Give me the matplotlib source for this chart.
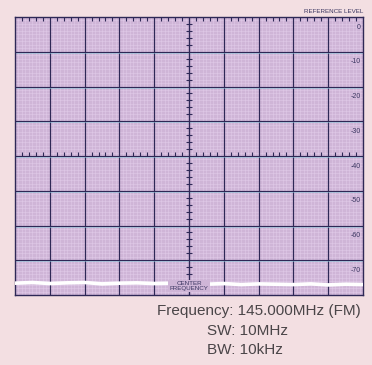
import numpy as np
import matplotlib.pyplot as plt

# spectrum analyser screen: 145 MHz centre, 10 MHz sweep, levels in dB
freq_mhz = [140.0, 140.5, 141.0, 141.5, 142.0, 142.5, 143.0, 143.5, 144.0, 144.5,
            145.0, 145.5, 146.0, 146.5, 147.0, 147.5, 148.0, 148.5, 149.0, 149.5, 150.0]
level_db = [-76.6, -76.4, -76.7, -76.5, -76.4, -76.8, -76.6, -76.5, -76.7, -76.6,
            -76.8, -76.9, -76.7, -77.0, -76.8, -76.9, -77.0, -76.8, -77.1, -76.9, -77.0]
level_labels = ['0', '-10', '-20', '-30', '-40', '-50', '-60', '-70']
level_values = [0, -10, -20, -30, -40, -50, -60, -70]
info_lines = ['Frequency: 145.000MHz (FM)', 'SW: 10MHz', 'BW: 10kHz']

bg = '#f3dfe2'
face = '#cfb5d7'
grid_c = '#2e2856'

plt.rcParams['font.family'] = ['Liberation Sans', 'DejaVu Sans']
fig = plt.figure(figsize=(3.72, 3.65), dpi=100, facecolor=bg)
ax = fig.add_axes([15 / 372, 70 / 365, 348 / 372, 278 / 365])
ax.set_facecolor(face)
ax.set_xlim(140, 150)
ax.set_ylim(-80, 0)

# fine graticule
for x in np.arange(140, 150.01, 0.1):
    ax.axvline(x, color='#e6d3ee', lw=0.4, alpha=0.7, zorder=1)
for y in np.arange(-80, 0.01, 1):
    ax.axhline(y, color='#e6d3ee', lw=0.4, alpha=0.7, zorder=1)

# main divisions
for x in np.arange(141, 150, 1):
    ax.axvline(x, color=grid_c, lw=0.85, zorder=2)
for y in np.arange(-70, 0, 10):
    ax.axhline(y, color=grid_c, lw=0.85, zorder=2)
    ax.axhline(y - 0.35, color='#8fd0e0', lw=0.6, alpha=0.6, zorder=2)

# small ticks on the top edge, centre horizontal and centre vertical lines
sub_x = [x for x in np.arange(140, 150.01, 0.2) if abs(x - round(x)) > 1e-6]
ax.vlines(sub_x, -1.2, 0, color=grid_c, lw=0.8, zorder=3)
ax.vlines(sub_x, -40, -38.8, color=grid_c, lw=0.8, zorder=3)
sub_y = [y for y in np.arange(-80, 0.01, 2) if y % 10 != 0]
ax.hlines(sub_y, 144.9, 145.1, color=grid_c, lw=0.8, zorder=3)
ax.axvline(145, color=grid_c, lw=0.85, zorder=2)

# noise floor trace
ax.plot(freq_mhz, level_db, color='white', lw=2.6, zorder=4)

for v, lab in zip(level_values, level_labels):
    ax.text(149.93, v - 2.9, lab, ha='right', va='center', fontsize=5,
            color='#3a3560', zorder=5)

ax.text(145, -77.5, 'CENTER\nFREQUENCY', ha='center', va='center', fontsize=4.5,
        color='#3a3560', linespacing=0.95, zorder=6,
        bbox=dict(boxstyle='square,pad=0.2', fc=face, ec='none'))
ax.text(150, 0.8, 'REFERENCE LEVEL', ha='right', va='bottom', fontsize=4.5,
        color='#3a3560')

ax.set_xticks([])
ax.set_yticks([])
for s in ax.spines.values():
    s.set_color(grid_c)
    s.set_linewidth(1.0)

fig.text(361 / 372, 1 - 311 / 365, info_lines[0], ha='right', va='center',
         fontsize=11, color='#4a4548')
fig.text(207 / 372, 1 - 331 / 365, info_lines[1], ha='left', va='center',
         fontsize=11, color='#4a4548')
fig.text(207 / 372, 1 - 350 / 365, info_lines[2], ha='left', va='center',
         fontsize=11, color='#4a4548')

fig.savefig('out.png', dpi=100, facecolor=bg)
